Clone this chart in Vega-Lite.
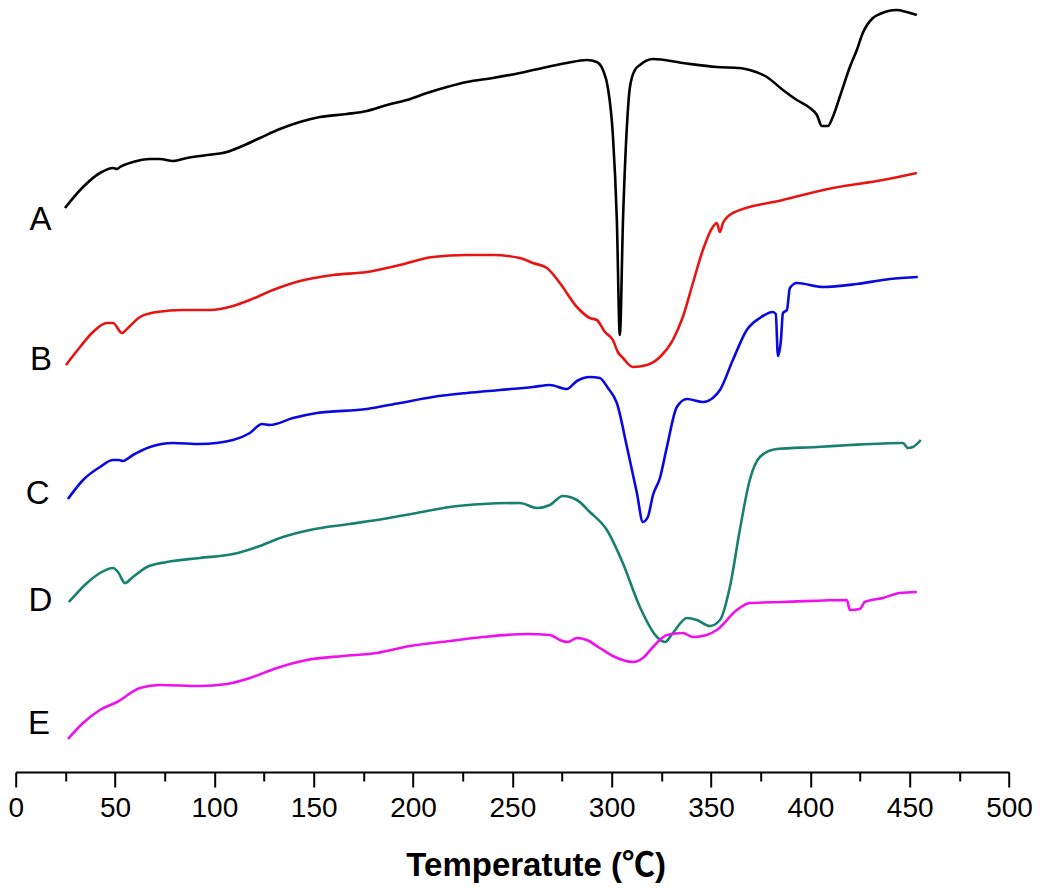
{
  "$schema": "https://vega.github.io/schema/vega-lite/v6.json",
  "autosize": {"type": "none"},
  "width": 993.3,
  "height": 772,
  "padding": {"left": 15.7, "top": 0, "right": 41, "bottom": 120},
  "config": {"view": {"stroke": null}},
  "datasets": {
    "curves": [
      {"sample":"A","temperature":24.8,"heat_flow":564},{"sample":"A","temperature":33.9,"heat_flow":585},{"sample":"A","temperature":42.4,"heat_flow":599},{"sample":"A","temperature":49,"heat_flow":604},{"sample":"A","temperature":51,"heat_flow":603},{"sample":"A","temperature":52.5,"heat_flow":605},{"sample":"A","temperature":59,"heat_flow":610},{"sample":"A","temperature":67.6,"heat_flow":613},{"sample":"A","temperature":72.6,"heat_flow":613},{"sample":"A","temperature":79.2,"heat_flow":611},{"sample":"A","temperature":86.2,"heat_flow":614},{"sample":"A","temperature":96.3,"heat_flow":617},{"sample":"A","temperature":106.3,"heat_flow":620},{"sample":"A","temperature":112.9,"heat_flow":625},{"sample":"A","temperature":122.9,"heat_flow":634},{"sample":"A","temperature":133,"heat_flow":643},{"sample":"A","temperature":143,"heat_flow":650},{"sample":"A","temperature":153.1,"heat_flow":655},{"sample":"A","temperature":166.7,"heat_flow":658},{"sample":"A","temperature":176.8,"heat_flow":661},{"sample":"A","temperature":186.9,"heat_flow":667},{"sample":"A","temperature":196.9,"heat_flow":672},{"sample":"A","temperature":207,"heat_flow":679},{"sample":"A","temperature":217.1,"heat_flow":685},{"sample":"A","temperature":227.1,"heat_flow":690},{"sample":"A","temperature":240.2,"heat_flow":694},{"sample":"A","temperature":253.8,"heat_flow":699},{"sample":"A","temperature":267.4,"heat_flow":705},{"sample":"A","temperature":277.4,"heat_flow":709},{"sample":"A","temperature":287.5,"heat_flow":712},{"sample":"A","temperature":292.5,"heat_flow":710},{"sample":"A","temperature":295.6,"heat_flow":702},{"sample":"A","temperature":298.1,"heat_flow":684},{"sample":"A","temperature":300.6,"heat_flow":637},{"sample":"A","temperature":302.6,"heat_flow":552},{"sample":"A","temperature":304.1,"heat_flow":437},{"sample":"A","temperature":305.7,"heat_flow":552},{"sample":"A","temperature":307.7,"heat_flow":647},{"sample":"A","temperature":309.2,"heat_flow":685},{"sample":"A","temperature":311.7,"heat_flow":702},{"sample":"A","temperature":314.2,"heat_flow":707},{"sample":"A","temperature":320.8,"heat_flow":713},{"sample":"A","temperature":335.8,"heat_flow":709},{"sample":"A","temperature":352.9,"heat_flow":705},{"sample":"A","temperature":364.5,"heat_flow":704},{"sample":"A","temperature":369.5,"heat_flow":702},{"sample":"A","temperature":378.1,"heat_flow":695},{"sample":"A","temperature":386.2,"heat_flow":682},{"sample":"A","temperature":393.2,"heat_flow":672},{"sample":"A","temperature":399.8,"heat_flow":664},{"sample":"A","temperature":403.3,"heat_flow":657},{"sample":"A","temperature":405.8,"heat_flow":646},{"sample":"A","temperature":408.8,"heat_flow":646},{"sample":"A","temperature":411.3,"heat_flow":655},{"sample":"A","temperature":414.8,"heat_flow":675},{"sample":"A","temperature":419.9,"heat_flow":705},{"sample":"A","temperature":423.4,"heat_flow":722},{"sample":"A","temperature":426.4,"heat_flow":739},{"sample":"A","temperature":431.5,"heat_flow":754},{"sample":"A","temperature":435,"heat_flow":758},{"sample":"A","temperature":443.5,"heat_flow":762},{"sample":"A","temperature":448.5,"heat_flow":760},{"sample":"A","temperature":453.6,"heat_flow":757},
      {"sample":"B","temperature":25.3,"heat_flow":407},{"sample":"B","temperature":32.4,"heat_flow":425},{"sample":"B","temperature":38.9,"heat_flow":440},{"sample":"B","temperature":45.9,"heat_flow":449},{"sample":"B","temperature":49,"heat_flow":449},{"sample":"B","temperature":53.5,"heat_flow":439},{"sample":"B","temperature":56,"heat_flow":443},{"sample":"B","temperature":62.6,"heat_flow":455},{"sample":"B","temperature":71.1,"heat_flow":460},{"sample":"B","temperature":84.2,"heat_flow":462},{"sample":"B","temperature":97.8,"heat_flow":462},{"sample":"B","temperature":109.4,"heat_flow":466},{"sample":"B","temperature":117.9,"heat_flow":472},{"sample":"B","temperature":129.5,"heat_flow":482},{"sample":"B","temperature":143.1,"heat_flow":491},{"sample":"B","temperature":159.7,"heat_flow":497},{"sample":"B","temperature":176.8,"heat_flow":500},{"sample":"B","temperature":193.4,"heat_flow":507},{"sample":"B","temperature":210,"heat_flow":515},{"sample":"B","temperature":227.1,"heat_flow":517},{"sample":"B","temperature":240.2,"heat_flow":517},{"sample":"B","temperature":253.8,"heat_flow":514},{"sample":"B","temperature":260.3,"heat_flow":509},{"sample":"B","temperature":267.4,"heat_flow":504},{"sample":"B","temperature":273.9,"heat_flow":489},{"sample":"B","temperature":282.5,"heat_flow":465},{"sample":"B","temperature":289,"heat_flow":454},{"sample":"B","temperature":292.5,"heat_flow":452},{"sample":"B","temperature":296.6,"heat_flow":440},{"sample":"B","temperature":300.6,"heat_flow":432},{"sample":"B","temperature":303.1,"heat_flow":420},{"sample":"B","temperature":305.7,"heat_flow":414},{"sample":"B","temperature":310.7,"heat_flow":405},{"sample":"B","temperature":317.7,"heat_flow":407},{"sample":"B","temperature":324.3,"heat_flow":415},{"sample":"B","temperature":330.8,"heat_flow":432},{"sample":"B","temperature":335.8,"heat_flow":455},{"sample":"B","temperature":340.9,"heat_flow":489},{"sample":"B","temperature":345.9,"heat_flow":522},{"sample":"B","temperature":350.9,"heat_flow":545},{"sample":"B","temperature":352.9,"heat_flow":549},{"sample":"B","temperature":354.5,"heat_flow":540},{"sample":"B","temperature":356,"heat_flow":549},{"sample":"B","temperature":361,"heat_flow":559},{"sample":"B","temperature":386.2,"heat_flow":572},{"sample":"B","temperature":411.3,"heat_flow":584},{"sample":"B","temperature":436.5,"heat_flow":592},{"sample":"B","temperature":453.6,"heat_flow":599},
      {"sample":"C","temperature":26.3,"heat_flow":273},{"sample":"C","temperature":33.9,"heat_flow":292},{"sample":"C","temperature":42.4,"heat_flow":305},{"sample":"C","temperature":49,"heat_flow":312},{"sample":"C","temperature":52,"heat_flow":312},{"sample":"C","temperature":54,"heat_flow":311},{"sample":"C","temperature":59,"heat_flow":317},{"sample":"C","temperature":67.6,"heat_flow":325},{"sample":"C","temperature":79.2,"heat_flow":329},{"sample":"C","temperature":92.7,"heat_flow":328},{"sample":"C","temperature":109.4,"heat_flow":332},{"sample":"C","temperature":117.9,"heat_flow":339},{"sample":"C","temperature":124,"heat_flow":348},{"sample":"C","temperature":128,"heat_flow":347},{"sample":"C","temperature":139.6,"heat_flow":354},{"sample":"C","temperature":151.6,"heat_flow":359},{"sample":"C","temperature":176.8,"heat_flow":363},{"sample":"C","temperature":193.4,"heat_flow":369},{"sample":"C","temperature":210,"heat_flow":375},{"sample":"C","temperature":227.1,"heat_flow":379},{"sample":"C","temperature":243.7,"heat_flow":382},{"sample":"C","temperature":260.3,"heat_flow":385},{"sample":"C","temperature":268.9,"heat_flow":387},{"sample":"C","temperature":277.4,"heat_flow":383},{"sample":"C","temperature":282.5,"heat_flow":391},{"sample":"C","temperature":289,"heat_flow":395},{"sample":"C","temperature":294,"heat_flow":394},{"sample":"C","temperature":298.1,"heat_flow":384},{"sample":"C","temperature":302.6,"heat_flow":369},{"sample":"C","temperature":307.7,"heat_flow":325},{"sample":"C","temperature":312.7,"heat_flow":279},{"sample":"C","temperature":315.7,"heat_flow":250},{"sample":"C","temperature":318.2,"heat_flow":255},{"sample":"C","temperature":320.8,"heat_flow":277},{"sample":"C","temperature":324.3,"heat_flow":294},{"sample":"C","temperature":327.8,"heat_flow":325},{"sample":"C","temperature":332.8,"heat_flow":365},{"sample":"C","temperature":337.9,"heat_flow":373},{"sample":"C","temperature":345.9,"heat_flow":370},{"sample":"C","temperature":350.9,"heat_flow":374},{"sample":"C","temperature":354.5,"heat_flow":382},{"sample":"C","temperature":361,"heat_flow":412},{"sample":"C","temperature":368,"heat_flow":442},{"sample":"C","temperature":374.6,"heat_flow":454},{"sample":"C","temperature":381.1,"heat_flow":460},{"sample":"C","temperature":382.6,"heat_flow":458},{"sample":"C","temperature":383.7,"heat_flow":416},{"sample":"C","temperature":385.2,"heat_flow":432},{"sample":"C","temperature":386.2,"heat_flow":459},{"sample":"C","temperature":388.2,"heat_flow":462},{"sample":"C","temperature":389.7,"heat_flow":484},{"sample":"C","temperature":393.2,"heat_flow":489},{"sample":"C","temperature":406.3,"heat_flow":485},{"sample":"C","temperature":423.4,"heat_flow":488},{"sample":"C","temperature":440,"heat_flow":493},{"sample":"C","temperature":454.1,"heat_flow":495},
      {"sample":"D","temperature":26.8,"heat_flow":170},{"sample":"D","temperature":35.9,"heat_flow":189},{"sample":"D","temperature":42.4,"heat_flow":199},{"sample":"D","temperature":49,"heat_flow":204},{"sample":"D","temperature":51.5,"heat_flow":200},{"sample":"D","temperature":55,"heat_flow":189},{"sample":"D","temperature":59,"heat_flow":195},{"sample":"D","temperature":66.1,"heat_flow":205},{"sample":"D","temperature":76.1,"heat_flow":210},{"sample":"D","temperature":92.7,"heat_flow":214},{"sample":"D","temperature":109.4,"heat_flow":218},{"sample":"D","temperature":121.4,"heat_flow":225},{"sample":"D","temperature":134.5,"heat_flow":235},{"sample":"D","temperature":148.1,"heat_flow":242},{"sample":"D","temperature":168.2,"heat_flow":248},{"sample":"D","temperature":184.9,"heat_flow":253},{"sample":"D","temperature":201.9,"heat_flow":259},{"sample":"D","temperature":218.6,"heat_flow":265},{"sample":"D","temperature":235.2,"heat_flow":268},{"sample":"D","temperature":253.8,"heat_flow":269},{"sample":"D","temperature":262.4,"heat_flow":264},{"sample":"D","temperature":268.9,"heat_flow":267},{"sample":"D","temperature":275.4,"heat_flow":276},{"sample":"D","temperature":282.5,"heat_flow":272},{"sample":"D","temperature":289,"heat_flow":260},{"sample":"D","temperature":297.6,"heat_flow":242},{"sample":"D","temperature":305.6,"heat_flow":209},{"sample":"D","temperature":314.2,"heat_flow":165},{"sample":"D","temperature":322.8,"heat_flow":135},{"sample":"D","temperature":326.8,"heat_flow":130},{"sample":"D","temperature":330.8,"heat_flow":139},{"sample":"D","temperature":337.9,"heat_flow":154},{"sample":"D","temperature":342.9,"heat_flow":152},{"sample":"D","temperature":349.4,"heat_flow":146},{"sample":"D","temperature":354.5,"heat_flow":152},{"sample":"D","temperature":359.5,"heat_flow":185},{"sample":"D","temperature":364.5,"heat_flow":242},{"sample":"D","temperature":369.5,"heat_flow":292},{"sample":"D","temperature":374.6,"heat_flow":315},{"sample":"D","temperature":383.1,"heat_flow":323},{"sample":"D","temperature":403.3,"heat_flow":325},{"sample":"D","temperature":419.9,"heat_flow":327},{"sample":"D","temperature":446.6,"heat_flow":329},{"sample":"D","temperature":449.1,"heat_flow":324},{"sample":"D","temperature":451.6,"heat_flow":325},{"sample":"D","temperature":455.6,"heat_flow":332},
      {"sample":"E","temperature":26.3,"heat_flow":33},{"sample":"E","temperature":33.9,"heat_flow":49},{"sample":"E","temperature":42.4,"heat_flow":62},{"sample":"E","temperature":51,"heat_flow":70},{"sample":"E","temperature":62.6,"heat_flow":84},{"sample":"E","temperature":72.6,"heat_flow":87},{"sample":"E","temperature":92.7,"heat_flow":86},{"sample":"E","temperature":106.3,"heat_flow":88},{"sample":"E","temperature":117.9,"heat_flow":94},{"sample":"E","temperature":131.5,"heat_flow":104},{"sample":"E","temperature":146.6,"heat_flow":112},{"sample":"E","temperature":164.7,"heat_flow":116},{"sample":"E","temperature":181.8,"heat_flow":119},{"sample":"E","temperature":198.4,"heat_flow":126},{"sample":"E","temperature":218.6,"heat_flow":131},{"sample":"E","temperature":235.2,"heat_flow":135},{"sample":"E","temperature":257.3,"heat_flow":138},{"sample":"E","temperature":268.9,"heat_flow":137},{"sample":"E","temperature":273.9,"heat_flow":132},{"sample":"E","temperature":277.9,"heat_flow":130},{"sample":"E","temperature":282.5,"heat_flow":134},{"sample":"E","temperature":287.5,"heat_flow":132},{"sample":"E","temperature":294,"heat_flow":124},{"sample":"E","temperature":300.6,"heat_flow":116},{"sample":"E","temperature":310.7,"heat_flow":110},{"sample":"E","temperature":315.7,"heat_flow":114},{"sample":"E","temperature":320.8,"heat_flow":125},{"sample":"E","temperature":327.8,"heat_flow":137},{"sample":"E","temperature":335.8,"heat_flow":139},{"sample":"E","temperature":340.9,"heat_flow":135},{"sample":"E","temperature":347.9,"heat_flow":137},{"sample":"E","temperature":352.9,"heat_flow":142},{"sample":"E","temperature":363,"heat_flow":162},{"sample":"E","temperature":369.5,"heat_flow":169},{"sample":"E","temperature":386.2,"heat_flow":170},{"sample":"E","temperature":418.4,"heat_flow":172},{"sample":"E","temperature":419.9,"heat_flow":162},{"sample":"E","temperature":424.9,"heat_flow":163},{"sample":"E","temperature":427.4,"heat_flow":170},{"sample":"E","temperature":436.5,"heat_flow":174},{"sample":"E","temperature":445,"heat_flow":179},{"sample":"E","temperature":453.6,"heat_flow":180}
    ],
    "labels": [
      {"sample":"A","temperature":12.5,"heat_flow":552},
      {"sample":"B","temperature":12.7,"heat_flow":412},
      {"sample":"C","temperature":11,"heat_flow":278},
      {"sample":"D","temperature":12.5,"heat_flow":171},
      {"sample":"E","temperature":11.7,"heat_flow":48}
    ]
  },
  "layer": [
    {
      "data": {"name": "curves"},
      "mark": {"type": "line", "strokeWidth": 2.6, "interpolate": "monotone"},
      "encoding": {
        "x": {
          "field": "temperature", "type": "quantitative",
          "scale": {"domain": [0, 500], "nice": false, "zero": false},
          "axis": {
            "values": [0,25,50,75,100,125,150,175,200,225,250,275,300,325,350,375,400,425,450,475,500],
            "labelExpr": "datum.value % 50 === 0 ? datum.label : ''",
            "tickSize": {"condition": {"test": "datum.value % 50 === 0", "value": 15}, "value": 9},
            "tickColor": "#000000", "tickWidth": 2,
            "domainColor": "#000000", "domainWidth": 2,
            "grid": false,
            "labelFont": "Liberation Sans", "labelFontSize": 28, "labelColor": "#000000",
            "labelPadding": 7, "labelFlush": false, "labelOverlap": false,
            "title": "Temperatute (℃)",
            "titleFont": "Liberation Sans, Noto Sans CJK SC", "titleFontSize": 33, "titleFontWeight": "bold",
            "titleColor": "#000000", "titleX": 520, "titleY": 103, "titleAlign": "center", "titleBaseline": "alphabetic"
          }
        },
        "y": {
          "field": "heat_flow", "type": "quantitative",
          "scale": {"domain": [0, 772], "nice": false, "zero": false},
          "axis": null
        },
        "color": {
          "field": "sample", "type": "nominal",
          "scale": {"domain": ["A","B","C","D","E"], "range": ["#000000","#e81414","#0a0ae0","#17806f","#ef10ef"]},
          "legend": null
        },
        "order": {"field": "temperature", "type": "quantitative"}
      }
    },
    {
      "data": {"name": "labels"},
      "mark": {"type": "text", "font": "Liberation Sans", "fontSize": 33, "align": "center", "baseline": "middle", "color": "#000000"},
      "encoding": {
        "x": {"field": "temperature", "type": "quantitative"},
        "y": {"field": "heat_flow", "type": "quantitative"},
        "text": {"field": "sample", "type": "nominal"}
      }
    }
  ]
}
